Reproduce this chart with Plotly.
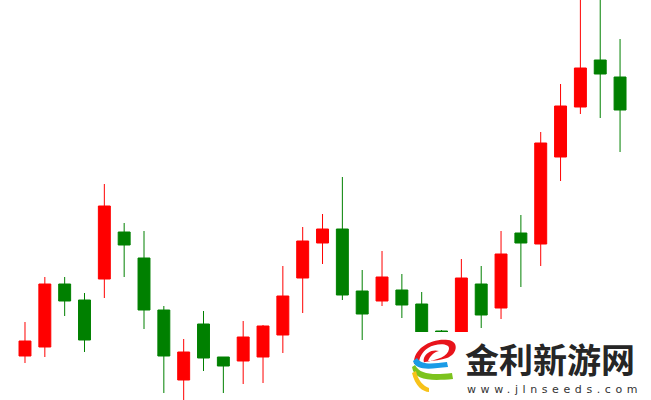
import plotly.graph_objects as go

# Candle index (day numbers)
days = list(range(1, 32))

# OHLC values (arbitrary price units)
opens = [44, 53, 116, 100, 121, 168, 142, 90, 20, 76, 43, 39, 43, 65, 122, 157, 171, 109, 99, 110, 96, 69, 55, 116, 92, 167, 156, 243, 293, 340, 323]
highs = [78, 123, 123, 107, 216, 177, 169, 94, 61, 89, 43, 79, 75, 134, 173, 186, 223, 130, 149, 126, 108, 70, 141, 134, 169, 185, 268, 316, 415, 420, 361]
lows = [37, 43, 84, 48, 102, 123, 71, 7, -2, 29, 7, 16, 17, 47, 87, 136, 100, 60, 94, 82, 55, 50, 48, 72, 81, 113, 134, 219, 286, 282, 248]
closes = [59, 116, 99, 60, 194, 155, 90, 44, 48, 42, 34, 63, 74, 104, 159, 171, 105, 86, 123, 95, 64, 60, 122, 85, 146, 157, 257, 294, 332, 326, 290]

RED = "#ff0000"
GREEN = "#008000"

fig = go.Figure()
fig.add_trace(go.Candlestick(
    x=days, open=opens, high=highs, low=lows, close=closes,
    increasing=dict(line=dict(color=RED, width=1), fillcolor=RED),
    decreasing=dict(line=dict(color=GREEN, width=1), fillcolor=GREEN),
    whiskerwidth=0,
    hoverinfo="skip",
    showlegend=False,
))

W, H = 651, 400


def px(x, y):
    return x / W, 1 - y / H


def path(points):
    s = ""
    for cmd, pts in points:
        s += cmd + " " + " ".join("%.4f,%.4f" % px(x, y) for x, y in pts) + " "
    return s + "Z"


shapes = [
    # white backdrop of the watermark
    dict(type="rect", xref="paper", yref="paper", x0=px(400, 0)[0], x1=1,
         y0=0, y1=px(0, 332)[1], fillcolor="white", line=dict(width=0), layer="above"),
    # logo: red swoosh
    dict(type="path", xref="paper", yref="paper", layer="above", fillcolor="#e8141b", line=dict(width=0),
         path=path([("M", [(414, 364)]),
                    ("C", [(413, 348), (432, 338), (448, 340)]),
                    ("C", [(459, 341), (458, 354), (447, 358)]),
                    ("C", [(441, 360), (434, 361), (428, 361)]),
                    ("C", [(430, 356), (434, 352), (439, 351)]),
                    ("C", [(432, 349), (426, 353), (424, 358)]),
                    ("C", [(423, 361), (424, 363), (425, 362)]),
                    ("C", [(438, 360), (448, 356), (449, 349)]),
                    ("C", [(450, 343), (436, 343), (428, 348)]),
                    ("C", [(422, 352), (419, 358), (419, 364)])])),
    # blue band
    dict(type="path", xref="paper", yref="paper", layer="above", fillcolor="#1a9be6", line=dict(width=0),
         path=path([("M", [(413, 361)]),
                    ("C", [(416, 371), (430, 369), (448, 367)]),
                    ("L", [(447, 362)]),
                    ("C", [(432, 364), (421, 365), (417, 358)])])),
    # green band
    dict(type="path", xref="paper", yref="paper", layer="above", fillcolor="#7cc31e", line=dict(width=0),
         path=path([("M", [(412, 367)]),
                    ("C", [(414, 381), (432, 381), (453, 379)]),
                    ("L", [(452, 373)]),
                    ("C", [(434, 375), (420, 375), (415, 365)])])),
    # yellow band
    dict(type="path", xref="paper", yref="paper", layer="above", fillcolor="#f7c21a", line=dict(width=0),
         path=path([("M", [(412, 373)]),
                    ("C", [(415, 386), (423, 392), (429, 392)]),
                    ("L", [(429, 388)]),
                    ("C", [(423, 386), (418, 380), (416, 371)])])),
]

annotations = [
    dict(text="<b>金利新游网</b>", xref="paper", yref="paper",
         x=px(463, 0)[0], y=px(0, 358)[1], xanchor="left", yanchor="middle",
         showarrow=False, font=dict(family="Noto Sans CJK SC", size=34, color="#262626")),
    dict(text='<span style="letter-spacing:4.6px">www.jlnseeds.com</span>', xref="paper", yref="paper",
         x=px(465, 0)[0], y=px(0, 389)[1], xanchor="left", yanchor="middle",
         showarrow=False, font=dict(family="DejaVu Sans", size=11, color="#333333")),
]

fig.update_layout(
    width=W, height=H,
    margin=dict(l=0, r=0, t=0, b=0),
    paper_bgcolor="white", plot_bgcolor="white",
    xaxis=dict(visible=False, range=[-0.26, 32.56], rangeslider=dict(visible=False), fixedrange=True),
    yaxis=dict(visible=False, range=[0, 400], fixedrange=True),
    boxgap=0.14, boxgroupgap=0.3,
    hovermode=False,
    shapes=shapes, annotations=annotations,
)

fig.write_html("out.html", config={"displayModeBar": False},
               post_script="document.body.style.margin='0';document.body.style.overflow='hidden';")
